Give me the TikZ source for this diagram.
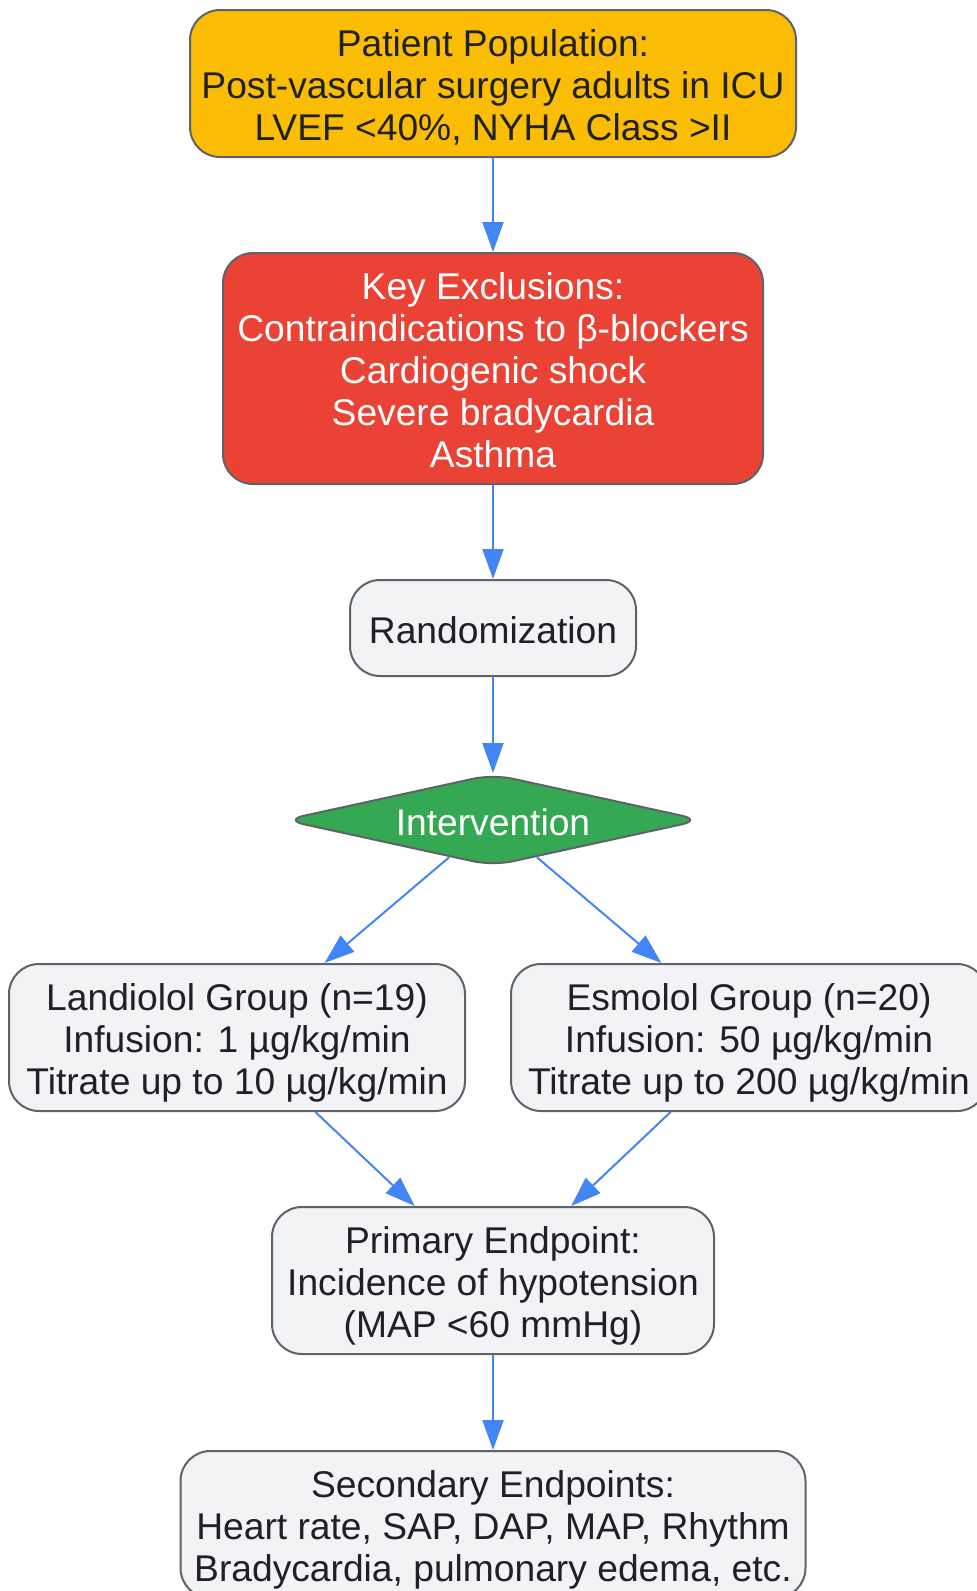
\documentclass[tikz,border=0pt]{standalone}
\usepackage{fontspec}
\setmainfont{Liberation Sans}
\usetikzlibrary{shapes.geometric,arrows.meta,positioning}
\definecolor{popyellow}{HTML}{FBBC04}
\definecolor{exclred}{HTML}{EA4335}
\definecolor{intgreen}{HTML}{34A853}
\definecolor{boxgray}{HTML}{F1F3F4}
\definecolor{edgegray}{HTML}{5F6368}
\definecolor{txtdark}{HTML}{202124}
\definecolor{linkblue}{HTML}{4285F4}
\begin{document}
\begin{tikzpicture}[node distance=285pt, align=center,
    box/.style={draw=edgegray, line width=2pt, rounded corners=30pt, fill=boxgray, text=txtdark, inner sep=0pt, font=\fontsize{37.2}{42}\selectfont, text height=38pt, text depth=8pt},
    threelines/.style={text height=122pt},
    fivelines/.style={text height=206pt},
    arr/.style={-{Triangle[length=30pt,width=21pt]}, draw=linkblue, line width=2pt}]

    \useasboundingbox (0pt,0pt) rectangle (977pt,-1591pt);

    \node(pop) [box, threelines, fill=popyellow, minimum width=606pt, minimum height=147pt] at (493pt,-83.5pt) {Patient Population:\\Post-vascular surgery adults in ICU\\LVEF <40\%, NYHA Class >II};
    \node(excl) [box, fivelines, fill=exclred, text=white, below of=pop, minimum width=540pt, minimum height=231pt] {Key Exclusions:\\Contraindications to β-blockers\\Cardiogenic shock\\Severe bradycardia\\Asthma};
    \node(rand) [box, node distance=259.5pt, below of=excl, minimum width=286pt, minimum height=96pt] {Randomization};
    \node(interv) [box, diamond, aspect=4.5, rounded corners=20pt, fill=intgreen, text=white, node distance=192pt, below of=rand, minimum width=418pt, minimum height=92pt] {Intervention};
    \node(land) [box, threelines, node distance=217.5pt, below of=interv, xshift=-256pt, minimum width=456pt, minimum height=147pt] {Landiolol Group (n=19)\\Infusion: 1 µg/kg/min\\Titrate up to 10 µg/kg/min};
    \node(esmo) [box, threelines, node distance=217.5pt, below of=interv, xshift=256pt, minimum width=476pt, minimum height=147pt] {Esmolol Group (n=20)\\Infusion: 50 µg/kg/min\\Titrate up to 200 µg/kg/min};
    \node(prim) [box, threelines, node distance=460.5pt, below of=interv, minimum width=442pt, minimum height=147pt] {Primary Endpoint:\\Incidence of hypotension\\(MAP <60 mmHg)};
    \node(sec) [box, threelines, node distance=244pt, below of=prim, minimum width=625pt, minimum height=147pt] {Secondary Endpoints:\\Heart rate, SAP, DAP, MAP, Rhythm\\Bradycardia, pulmonary edema, etc.};

    \draw [arr] (pop) to (excl);
    \draw [arr] (excl) to (rand);
    \draw [arr] (rand) to (interv);
    \draw [arr] (interv) to (land);
    \draw [arr] (interv) to (esmo);
    \draw [arr] (land) to (prim);
    \draw [arr] (esmo) to (prim);
    \draw [arr] (prim) to (sec);

\end{tikzpicture}
\end{document}
